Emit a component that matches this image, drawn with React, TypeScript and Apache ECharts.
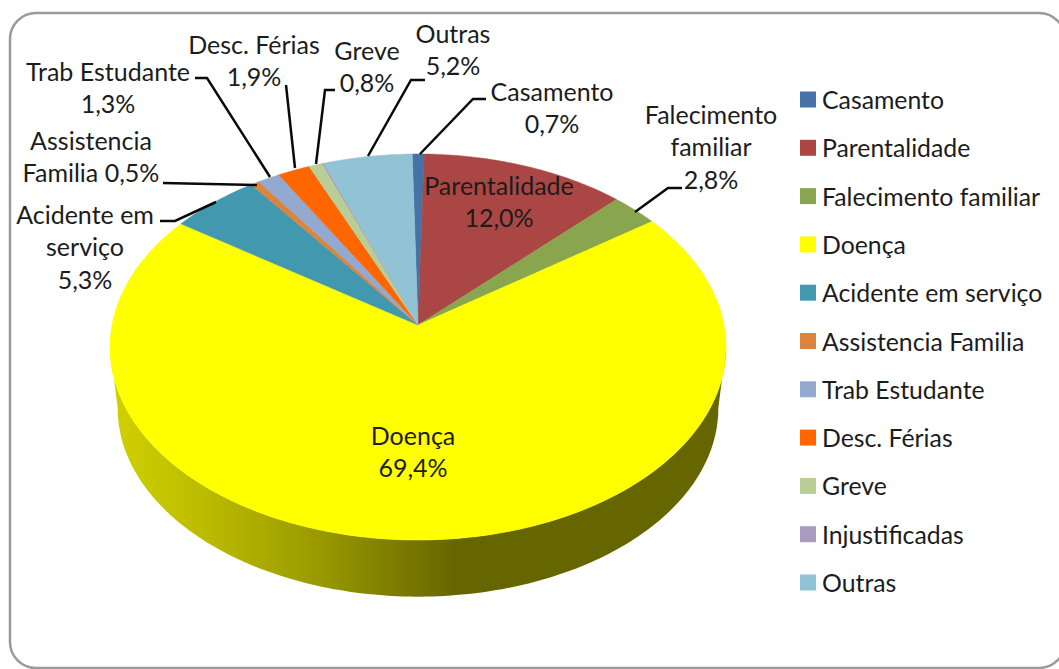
import React, { useEffect, useRef } from "react";
import * as echarts from "echarts";

const categories = ["Casamento", "Parentalidade", "Falecimento familiar", "Doença", "Acidente em serviço", "Assistencia Familia", "Trab Estudante", "Desc. Férias", "Greve", "Injustificadas", "Outras"];
const shares = [0.7, 12.0, 2.8, 69.4, 5.3, 0.5, 1.3, 1.9, 0.8, 0.1, 5.2];
const colors = ["#4572a7", "#aa4643", "#89a54e", "#ffff00", "#4198af", "#db843d", "#93a9cf", "#ff6600", "#b9cd96", "#a99bbd", "#92c3d4"];
const labelLines = [
  ["Casamento", "0,7%"],
  ["Parentalidade", "12,0%"],
  ["Falecimento", "familiar", "2,8%"],
  ["Doença", "69,4%"],
  ["Acidente em", "serviço", "5,3%"],
  ["Assistencia", "Familia 0,5%"],
  ["Trab Estudante", "1,3%"],
  ["Desc. Férias", "1,9%"],
  ["Greve", "0,8%"],
  null,
  ["Outras", "5,2%"],
];

// Layout only (page pixels)
const labelCentres: ([number, number] | null)[] = [
  [552, 107], [499, 201], [711, 146], [413, 451], [85, 246], [91, 156], [108, 87], [254, 60], [367, 66], null, [453, 49],
];
const leaders: number[][][] = [
  [[486, 99], [473, 99], [420, 154]],
  [[682, 188], [668, 188], [635, 212]],
  [[160, 221], [175, 221], [216, 202]],
  [[163, 183], [257, 185]],
  [[195, 78], [207, 78], [270, 177]],
  [[286, 85], [295, 168]],
  [[335, 90], [325, 90], [316, 164]],
  [[425, 80], [411, 80], [368, 156]],
];

const CX = 418, CY = 325, K = -0.114, B = 190.5;
const R = 308 * Math.sqrt(1 - K * K);
const DROP = 62, SHRINK = 0.975, ROTATION = -1.2;
const FONT = "Lato, Carlito, sans-serif";

const rad = (d: number) => (d * Math.PI) / 180;
function topRim(deg: number): number[] {
  const u = Math.sin(rad(deg)), v = -Math.cos(rad(deg));
  const w = 1 + K * v;
  return [CX + (R * u) / w, CY + (B * v) / w];
}
function bottomRim(deg: number): number[] {
  const u = Math.sin(rad(deg)), v = -Math.cos(rad(deg));
  const w = 1 + K * v;
  return [CX + (R * SHRINK * u) / w, CY + DROP + (B * SHRINK * v) / w];
}
function arcPoints(a: number, b: number, fn: (d: number) => number[]) {
  const n = Math.max(2, Math.ceil(Math.abs(b - a)));
  const pts: number[][] = [];
  for (let i = 0; i <= n; i++) pts.push(fn(a + ((b - a) * i) / n));
  return pts;
}

const total = shares.reduce((s, v) => s + v, 0);
const starts: number[] = [];
shares.reduce((acc, v, i) => {
  starts[i] = (acc / total) * 360 + ROTATION;
  return acc + v;
}, 0);

export default function App() {
  const ref = useRef<HTMLDivElement>(null);
  useEffect(() => {
    if (!ref.current) return;
    const chart = echarts.init(ref.current, undefined, { renderer: "svg" });
    const sideFill = new echarts.graphic.LinearGradient(
      118, 0, 455, 0,
      [
        { offset: 0, color: "#cfcf00" },
        { offset: 0.25, color: "#bcbc00" },
        { offset: 0.6, color: "#999900" },
        { offset: 0.85, color: "#797900" },
        { offset: 1, color: "#666600" },
      ],
      true
    );
    const series = categories.map((name, i) => ({
      name,
      type: "custom",
      coordinateSystem: "none",
      silent: true,
      z: 2,
      itemStyle: { color: colors[i] },
      data: [[shares[i]]],
      renderItem: (_p: unknown, api: any) => {
        const sweep = (api.value(0) / total) * 360;
        const a = starts[i], b = a + sweep;
        const face = {
          type: "polygon",
          shape: { points: [[CX, CY], ...arcPoints(a, b, topRim)] },
          style: { fill: colors[i], stroke: colors[i], lineWidth: 0.5 },
        };
        const vis0 = Math.max(a, 96.5), vis1 = Math.min(b, 263.5);
        if (vis1 <= vis0) return face;
        const side = {
          type: "polygon",
          shape: { points: [...arcPoints(vis0, vis1, topRim), ...arcPoints(vis1, vis0, bottomRim)] },
          style: { fill: sideFill },
        };
        return { type: "group", children: [side, face] };
      },
    }));

    const graphics: any[] = [
      {
        type: "rect",
        z: 0,
        shape: { x: 10, y: 13, width: 1055, height: 655, r: 26 },
        style: { fill: "#ffffff", stroke: "#9a9a9a", lineWidth: 2.5 },
      },
    ];
    leaders.forEach((points) =>
      graphics.push({
        type: "polyline",
        z: 10,
        shape: { points },
        style: { stroke: "#0a0a0a", lineWidth: 2.5, fill: "none" },
      })
    );
    labelLines.forEach((lines, i) => {
      const c = labelCentres[i];
      if (!lines || !c) return;
      graphics.push({
        type: "text",
        z: 11,
        x: c[0],
        y: c[1],
        style: {
          text: lines.join("\n"),
          fontFamily: FONT,
          fontSize: 25,
          lineHeight: 32.5,
          align: "center",
          verticalAlign: "middle",
          fill: "#1c1c1c",
        },
      });
    });

    chart.setOption({
      animation: false,
      backgroundColor: "#ffffff",
      legend: {
        show: true,
        orient: "vertical",
        left: 800,
        top: 87,
        itemWidth: 16,
        itemHeight: 16,
        itemGap: 23.3,
        padding: 0,
        selectedMode: false,
        icon: "rect",
        textStyle: { fontFamily: FONT, fontSize: 24.8, color: "#1c1c1c", padding: [0, 0, 0, 1] },
        data: categories,
      },
      graphic: { elements: graphics },
      series,
    });
    return () => chart.dispose();
  }, []);
  return <div ref={ref} style={{ position: "fixed", left: 0, top: 0, width: 1059, height: 669 }} />;
}
